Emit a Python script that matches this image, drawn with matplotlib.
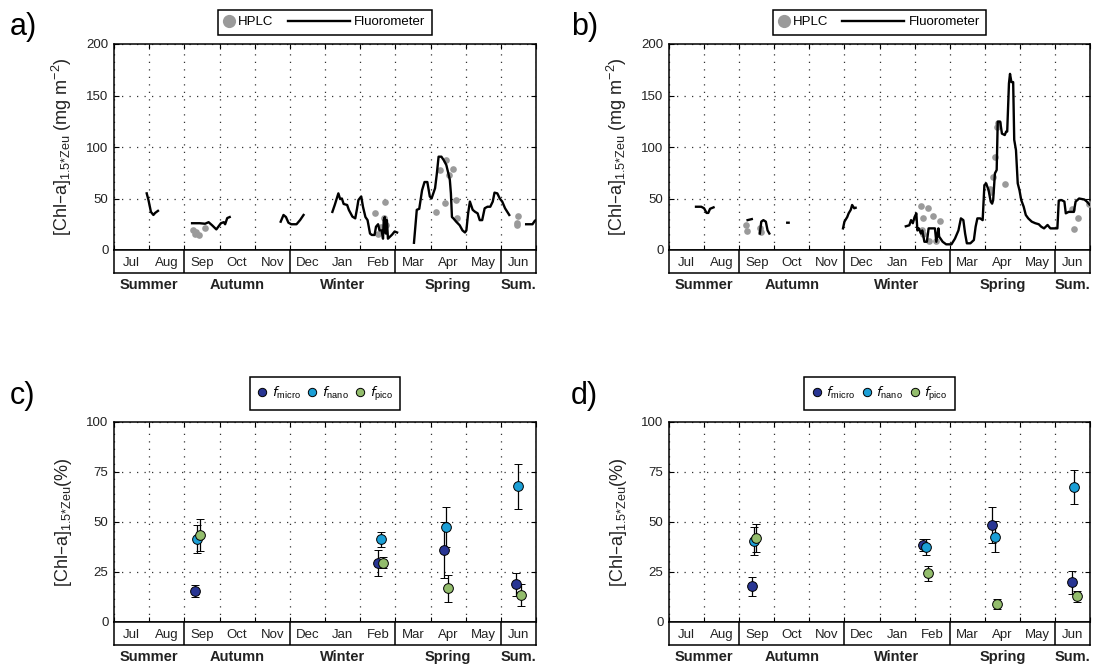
import numpy as np
import matplotlib
matplotlib.use("Agg")
import matplotlib.pyplot as plt
from matplotlib.lines import Line2D
from matplotlib.legend_handler import HandlerLine2D

plt.rcParams.update({
    "font.family": ["Liberation Sans", "DejaVu Sans"],
    "font.size": 9,
    "mathtext.default": "regular",
    "axes.linewidth": 1.1,
})

# --- axis categories ---
months = ["Jul", "Aug", "Sep", "Oct", "Nov", "Dec", "Jan", "Feb", "Mar", "Apr", "May", "Jun"]
seasons = ["Summer", "Autumn", "Winter", "Spring", "Sum."]
season_len = [2, 3, 3, 3, 1]

nan = np.nan

# --- panel a: fluorometer (x in months since 1 Jul, NaN = gap) ---
fluo_a_x = [0.93, 0.98, 1.05, 1.12, 1.17, 1.25, nan,
            2.22, 2.44, 2.59, 2.69, 2.79, 2.91, 3.04, 3.12, 3.16, 3.22, 3.29, nan,
            4.74, 4.82, 4.89, 4.96, 5.04, 5.19, 5.29, 5.39, nan,
            6.21, 6.28, 6.38, 6.43, 6.48, 6.53, 6.63, 6.68, 6.78, 6.86, 6.91, 6.95, 7.03,
            7.08, 7.15, 7.21, 7.28, 7.33, 7.41, 7.45, 7.51, 7.55, 7.61, 7.65, 7.67, 7.70,
            7.73, 7.76, 7.79, 7.85, 7.91, 7.98, 8.05, nan,
            8.53, 8.61, 8.68, 8.76, 8.83, 8.91, 8.98, 9.03, 9.13, 9.18, 9.23, 9.31, 9.38,
            9.45, 9.51, 9.55, 9.58, 9.61, 9.65, 9.73, 9.83, 9.91, 9.98, 10.02, 10.07, 10.12,
            10.20, 10.27, 10.34, 10.40, 10.47, 10.54, 10.62, 10.70, 10.77, 10.82, 10.90,
            10.97, 11.04, 11.12, 11.24, nan,
            11.72, 11.90, 11.97, 12.0]
fluo_a_y = [55, 48.5, 37, 34, 36, 38, nan,
            26, 26, 25.5, 27, 24, 20, 26, 27, 25, 31, 32, nan,
            27.5, 34, 32, 26.5, 25, 25, 29, 34, nan,
            37, 44, 55, 49.5, 50, 44.7, 43.7, 38.8, 32.4, 30.7, 40, 48.5, 52,
            42, 32, 29, 16, 14.6, 14.6, 22.6, 25, 19, 19, 11, 29, 32,
            16, 29, 11, 13, 15, 18, 17, nan,
            7, 39, 40, 58, 66, 66, 52, 50, 60, 74, 90.6, 90.6, 87,
            82.5, 74, 68, 55, 32, 30.7, 27.5, 24, 19, 17, 19, 35.6, 47,
            39, 37, 35.6, 29, 29, 40.5, 42, 42, 47, 55.7, 55,
            50, 47, 40.5, 34, nan,
            25, 25, 28.5, 29]
hplc_a_x = [2.24, 2.29, 2.34, 2.41, 2.59, 7.41, 7.50, 7.58, 7.68, 7.70, 7.73,
            9.16, 9.28, 9.41, 9.45, 9.53, 9.63, 9.73, 9.76, 11.45, 11.47, 11.50]
hplc_a_y = [19.4, 16, 17.8, 14.6, 21, 35.6, 16, 22.6, 30.7, 47, 24.3,
            37, 77.7, 45.3, 87, 72.8, 78.3, 49, 30.7, 24.3, 26.5, 33]

# --- panel b ---
fluo_b_x = [0.77, 0.92, 1.00, 1.07, 1.12, 1.17, 1.27, nan,
            2.24, 2.36, nan,
            2.59, 2.63, 2.69, 2.76, 2.81, 2.86, nan,
            3.37, 3.41, nan,
            4.96, 5.00, 5.08, 5.12, 5.18, 5.22, 5.28, 5.32, nan,
            6.75, 6.85, 6.90, 6.95, 7.00, 7.05, 7.08, 7.12, 7.18, 7.22, 7.28, 7.35, 7.40,
            7.58, 7.62, 7.68, 7.70, 7.80, 7.90, 8.05, 8.15, 8.25, 8.32, 8.39, 8.44, 8.49,
            8.59, 8.69, 8.74, 8.79, 8.87, 8.94, 8.99, 9.04, 9.11, 9.17, 9.21, 9.24, 9.29,
            9.34, 9.37, 9.44, 9.49, 9.57, 9.61, 9.64, 9.69, 9.72, 9.76, 9.81, 9.84, 9.89,
            9.94, 9.99, 10.04, 10.11, 10.17, 10.24, 10.34, 10.44, 10.54, 10.61, 10.69,
            10.79, 10.87, 11.07, 11.11, 11.19, 11.27, 11.31, 11.39, 11.54, 11.59, 11.69,
            11.84, 11.91, 11.99]
fluo_b_y = [42, 42, 40.5, 36, 36, 40, 41.4, nan,
            29, 30, nan,
            16, 27.5, 29, 27.5, 19, 16, nan,
            26.5, 26.5, nan,
            21, 27.5, 32, 35.6, 39, 43.7, 40.5, 41, nan,
            23, 24, 29, 26, 32, 35.6, 19, 21, 16, 19, 8, 8, 21,
            21, 8, 21, 13, 8, 5.5, 5.5, 11, 19, 30.7, 29, 16, 6.5,
            6.5, 9.7, 22.6, 30.7, 30.7, 29, 63, 64.7, 58, 47, 45, 48.5, 74.4,
            77.7, 124.6, 124.6, 113, 111.6, 115, 115, 161.8, 171, 163, 163, 107, 97,
            64.7, 58, 48.5, 42, 34, 30.7, 27.5, 26, 25, 22.6, 21,
            24.3, 21, 21, 48, 48.5, 47, 35.6, 37, 37, 47, 50,
            49, 47, 44]
hplc_b_x = [2.19, 2.23, 2.59, 2.61, 7.18, 7.20, 7.25, 7.25, 7.37, 7.42, 7.52, 7.60, 7.72,
            9.14, 9.19, 9.24, 9.29, 9.34, 9.37, 9.59, 11.49, 11.54, 11.66, 11.98]
hplc_b_y = [24.3, 18.4, 21, 17.8, 43, 19.4, 30.7, 16, 40.5, 9, 33, 9, 28.5,
            59, 56.6, 71.2, 90, 119.7, 123.6, 64, 39.8, 20.7, 30.7, 45]

# --- panel c: size fractions (%), mean and sd ---
c_micro_x = [2.31, 7.51, 9.38, 11.42]
c_micro = [15.3, 29.7, 35.9, 18.8]
c_micro_sd = [3.0, 6.5, 14.0, 5.8]
c_nano_x = [2.36, 7.59, 9.45, 11.49]
c_nano = [41.4, 41.4, 47.7, 67.8]
c_nano_sd = [7.0, 3.8, 10.0, 11.3]
c_pico_x = [2.45, 7.66, 9.51, 11.57]
c_pico = [43.7, 29.6, 16.8, 13.6]
c_pico_sd = [8.0, 2.7, 6.8, 5.5]

# --- panel d ---
d_micro_x = [2.36, 7.25, 9.22, 11.49]
d_micro = [17.9, 38.5, 48.5, 19.9]
d_micro_sd = [4.8, 3.2, 8.8, 5.8]
d_nano_x = [2.41, 7.32, 9.29, 11.55]
d_nano = [40.5, 37.4, 42.7, 67.4]
d_nano_sd = [6.9, 4.0, 7.7, 8.4]
d_pico_x = [2.49, 7.38, 9.35, 11.62]
d_pico = [42.2, 24.3, 8.8, 12.8]
d_pico_sd = [7.0, 3.8, 2.5, 2.9]

C_MICRO = "#283593"
C_NANO = "#1b9fd6"
C_PICO = "#93bd6c"
C_HPLC = "#9a9a9a"
TXT = "#222222"

W, H = 1093, 666
BOX = 23  # px, month strip height


def rect(l, t, r, b):
    return [l / W, 1 - b / H, (r - l) / W, (b - t) / H]


class LeftMarker(HandlerLine2D):
    # square handle box so the dot sits right next to its label
    def create_artists(self, legend, orig_handle, xdescent, ydescent, width, height,
                       fontsize, trans):
        return super().create_artists(legend, orig_handle, xdescent, ydescent,
                                      height, height, fontsize, trans)


def make_panel(fig, box, ylim, yticks, ylabel):
    l, t, r, b = box
    ax = fig.add_axes(rect(l, t, r, b))
    ax.set_xlim(0, 12)
    ax.set_ylim(*ylim)
    ax.set_xticks(range(13))
    ax.set_xticklabels([])
    ax.set_yticks(yticks)
    ax.tick_params(direction="in", top=True, right=True, length=3.5, width=0.8,
                   labelsize=9.5, labelcolor=TXT, pad=4)
    ax.grid(True, linestyle=(0, (1, 5)), color="#333333", linewidth=0.9)
    ax.set_ylabel(ylabel, fontsize=13, color=TXT)
    ax.yaxis.set_label_coords(-0.095, 0.5)

    # month strip with season separators
    axm = fig.add_axes(rect(l, b, r, b + BOX))
    axm.set_xlim(0, 12)
    axm.set_ylim(0, 1)
    axm.set_xticks([])
    axm.set_yticks([])
    edges = np.cumsum(season_len)
    for e in edges[:-1]:
        axm.axvline(e, color="k", linewidth=1.1)
    for i, m in enumerate(months):
        axm.text(i + 0.5, 0.45, m, ha="center", va="center", fontsize=9.5, color=TXT)
    starts = np.concatenate([[0], edges[:-1]])
    for s, n, name in zip(starts, season_len, seasons):
        axm.text(s + n / 2, -0.70, name, ha="center", va="baseline", fontsize=10.5,
                 fontweight="bold", color=TXT)
    return ax


fig = plt.figure(figsize=(W / 100, H / 100), dpi=100)

ylab_top = r"[Chl–a]$_{1.5{*}Zeu}$ (mg m$^{-2}$)"
ylab_bot = r"[Chl–a]$_{1.5{*}Zeu}$(%)"

panels_top = [((114, 44, 536, 250), fluo_a_x, fluo_a_y, hplc_a_x, hplc_a_y),
              ((669, 44, 1090, 250), fluo_b_x, fluo_b_y, hplc_b_x, hplc_b_y)]
for box, fx, fy, hx, hy in panels_top:
    ax = make_panel(fig, box, (0, 200), range(0, 201, 50), ylab_top)
    ax.plot(hx, hy, "o", color=C_HPLC, ms=4.8, mec="none", zorder=3)
    ax.plot(fx, fy, "-", color="k", lw=1.7, zorder=4)
    h_dot = Line2D([], [], marker="o", ls="", color=C_HPLC, ms=9.5, mec="none")
    h_line = Line2D([], [], color="k", lw=1.7)
    leg = ax.legend([h_dot, h_line], ["HPLC", "Fluorometer"], ncol=2, loc="lower center",
                    bbox_to_anchor=(0.5, 1 + 9 / 206), borderaxespad=0, frameon=True,
                    fancybox=False, edgecolor="k", framealpha=1, fontsize=9.5,
                    handlelength=4.7, handletextpad=0.3, columnspacing=1.1,
                    borderpad=0.5, handler_map={h_dot: LeftMarker()})
    leg.get_frame().set_linewidth(1.1)
    # shrink the dot's handle box to the dot itself
    dot_box = leg._legend_handle_box.get_children()[0].get_children()[0].get_children()[0]
    dot_box.width = dot_box.height

sizes = [("micro", C_MICRO), ("nano", C_NANO), ("pico", C_PICO)]
panels_bot = [((114, 422, 536, 622),
               [(c_micro_x, c_micro, c_micro_sd), (c_nano_x, c_nano, c_nano_sd),
                (c_pico_x, c_pico, c_pico_sd)]),
              ((669, 422, 1090, 622),
               [(d_micro_x, d_micro, d_micro_sd), (d_nano_x, d_nano, d_nano_sd),
                (d_pico_x, d_pico, d_pico_sd)])]
for box, series in panels_bot:
    ax = make_panel(fig, box, (0, 100), range(0, 101, 25), ylab_bot)
    handles = []
    for (x, y, sd), (name, col) in zip(series, sizes):
        ax.errorbar(x, y, yerr=sd, fmt="o", ms=7, mfc=col, mec="k", mew=0.7,
                    ecolor="k", elinewidth=0.9, capsize=3, capthick=0.9, zorder=3)
        handles.append(Line2D([], [], marker="o", ls="", ms=6, mfc=col, mec="k", mew=0.7))
    leg = ax.legend(handles, [r"$\mathit{f}_{%s}$" % n for n, _ in sizes],
                    ncol=3, loc="lower center", bbox_to_anchor=(0.5, 1 + 12 / 200),
                    borderaxespad=0, frameon=True, fancybox=False, edgecolor="k",
                    framealpha=1, fontsize=9.5, handlelength=0.8, handletextpad=0.35,
                    columnspacing=0.45, borderpad=0.55)
    leg.get_frame().set_linewidth(1.1)

for lab, x, y in [("a)", 10, 27), ("b)", 571, 27), ("c)", 10, 396), ("d)", 571, 396)]:
    fig.text(x / W, 1 - y / H, lab, fontsize=22, ha="left", va="center")

fig.savefig("out.png", dpi=100)
